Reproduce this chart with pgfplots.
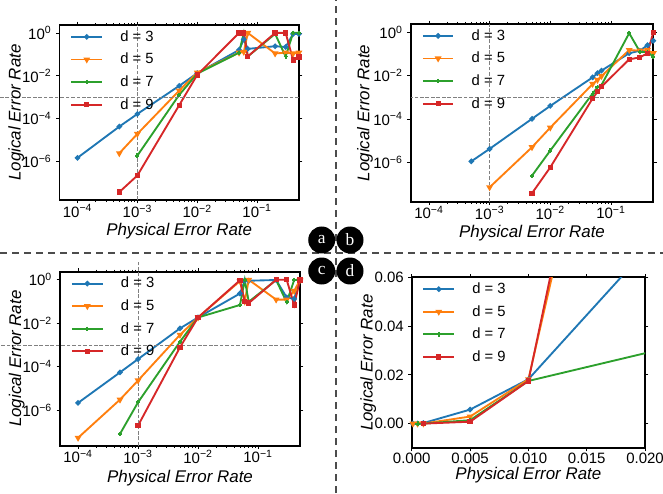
\documentclass[border=0pt]{standalone}
\usepackage{fontspec}
\setmainfont{Liberation Sans}
\newfontfamily\seriffont{Liberation Serif}
\usepackage{pgfplots}
\pgfplotsset{compat=1.18}
\definecolor{c3}{HTML}{1F77B4}
\definecolor{c5}{HTML}{FF7F0E}
\definecolor{c7}{HTML}{2CA02C}
\definecolor{c9}{HTML}{D62728}
\tikzset{refline/.style={gray, line width=0.6pt, dash pattern=on 2.8pt off 1.3pt}}
\pgfplotsset{
  s3/.style={color=c3, mark=*, mark size=1.3pt, line width=1.4pt},
  s5/.style={color=c5, mark=triangle*, mark size=1.6pt, mark options={rotate=180}, line width=1.4pt},
  s7/.style={color=c7, mark=+, mark size=1.6pt, line width=1.4pt},
  s9/.style={color=c9, mark=square*, mark size=1.25pt, line width=1.4pt},
  panel/.style={
    scale only axis, anchor=south west,
    tick align=outside, major tick length=2.5pt, minor tick length=1.5pt,
    tick style={black, line width=0.6pt},
    axis line style={line width=1.3pt},
    tick label style={font=\fontsize{11.25}{13}\selectfont},
    xticklabel style={yshift=2.5pt},
    label style={font=\fontsize{12.7}{15}\selectfont\itshape},
    xlabel={Physical Error Rate}, ylabel={Logical Error Rate},
    legend style={draw=none, fill=none, at={(0.045,0.985)}, anchor=north west,
      font=\fontsize{11.1}{13}\selectfont, row sep=3.4pt, inner sep=0pt,
      /tikz/every odd column/.append style={column sep=11pt}},
    legend cell align=left,
    legend image code/.code={\draw[mark repeat=2, mark phase=2, ##1] plot coordinates {(0pt,0pt) (11.5pt,0pt) (23pt,0pt)};},
  },
  logpanel/.style={panel, clip=false, xmin=5e-5, xmax=0.5,
    xtick={1e-4,1e-3,1e-2,1e-1},
    xticklabels={10\textsuperscript{−4},10\textsuperscript{−3},10\textsuperscript{−2},10\textsuperscript{−1}},
    ytick={1e-6,1e-4,1e-2,1},
    yticklabels={10\textsuperscript{−6},10\textsuperscript{−4},10\textsuperscript{−2},10\textsuperscript{0}},
  },
}
\begin{document}
\begin{tikzpicture}
\useasboundingbox (0,0) rectangle (497.25pt,369.75pt);
% ---------------- panel a
\begin{loglogaxis}[logpanel, at={(44.6pt,219.75pt)}, width=179.6pt, height=131.25pt,
  ymin=1.62e-8, ymax=2.34,
  xlabel style={at={(axis description cs:0.5,-0.175)}, anchor=center},
  ylabel style={at={(axis description cs:-0.18,0.5)}, anchor=center}]
\addplot[s3] coordinates {(1e-4,1.5e-6) (5e-4,4.3e-5) (1e-3,1.66e-4) (5e-3,3.4e-3) (1e-2,1.32e-2) (0.05,0.16) (0.06,0.5) (0.07,0.18) (0.2,0.24) (0.3,0.22) (0.4,0.9) (0.5,0.9)};
\addplot[s5] coordinates {(5e-4,2.45e-6) (1e-3,1.95e-5) (5e-3,2.04e-3) (1e-2,1.41e-2) (0.05,0.12) (0.06,0.13) (0.07,1.0) (0.2,0.11) (0.3,0.12) (0.4,0.11) (0.5,0.12)};
\addplot[s7] coordinates {(1e-3,1.9e-6) (5e-3,1.29e-3) (1e-2,1.26e-2) (0.05,0.12) (0.06,1.0) (0.07,0.08) (0.2,0.9) (0.3,0.08) (0.4,1.0) (0.5,1.0)};
\addplot[s9] coordinates {(5e-4,3.8e-8) (1e-3,2.24e-7) (5e-3,4.27e-4) (1e-2,1.1e-2) (0.05,1.0) (0.06,1.0) (0.07,0.08) (0.2,1.0) (0.3,1.0) (0.4,0.055) (0.5,0.075)};
\legend{d = 3, d = 5, d = 7, d = 9}
\draw[refline] (axis cs:1e-3,1.62e-8) -- (axis cs:1e-3,2.34);
\draw[refline] (axis cs:0.5,1e-3) -- ([xshift=-44.6pt]axis cs:5e-5,1e-3);
\end{loglogaxis}
% ---------------- panel b
\begin{loglogaxis}[logpanel, at={(308pt,218.5pt)}, width=182pt, height=133.3pt,
  ymin=1.55e-8, ymax=2.4,
  xlabel style={at={(axis description cs:0.5,-0.178)}, anchor=center},
  ylabel style={at={(axis description cs:-0.188,0.5)}, anchor=center}]
\addplot[s3] coordinates {(5e-4,1.12e-6) (1e-3,4.2e-6) (5e-3,1.02e-4) (1e-2,4.0e-4) (0.05,8.3e-3) (0.06,1.29e-2) (0.07,1.7e-2) (0.2,0.107) (0.3,0.14) (0.4,0.25) (0.5,0.4)};
\addplot[s5] coordinates {(1e-3,7.1e-8) (5e-3,5.0e-6) (1e-2,4.0e-5) (0.05,4.1e-3) (0.06,6.3e-3) (0.07,9.5e-3) (0.2,0.15) (0.3,0.14) (0.4,0.15) (0.5,0.107)};
\addplot[s7] coordinates {(5e-3,2.45e-7) (1e-2,3.5e-6) (0.05,1.5e-3) (0.06,2.9e-3) (0.07,3.7e-3) (0.2,0.9) (0.3,0.126) (0.4,0.12) (0.5,0.075)};
\addplot[s9] coordinates {(5e-3,3.8e-8) (1e-2,5.9e-7) (0.05,8.9e-4) (0.06,1.8e-3) (0.07,3.1e-3) (0.2,0.056) (0.3,0.069) (0.4,0.107) (0.5,1.0)};
\legend{d = 3, d = 5, d = 7, d = 9}
\draw[refline] (axis cs:1e-3,1.55e-8) -- (axis cs:1e-3,2.4);
\draw[refline] (axis cs:0.5,1e-3) -- (axis cs:5e-5,1e-3);
\end{loglogaxis}
% ---------------- panel c
\begin{loglogaxis}[logpanel, at={(45pt,35.5pt)}, width=180pt, height=130.5pt,
  ymin=2.4e-8, ymax=2.29,
  xlabel style={at={(axis description cs:0.5,-0.187)}, anchor=center},
  ylabel style={at={(axis description cs:-0.18,0.5)}, anchor=center}]
\addplot[s3] coordinates {(1e-4,2.2e-6) (5e-4,5.5e-5) (1e-3,2.24e-4) (5e-3,5.75e-3) (1e-2,1.82e-2) (0.05,0.229) (0.06,0.9) (0.07,0.88) (0.2,0.95) (0.3,0.15) (0.4,0.13) (0.5,0.93)};
\addplot[s5] coordinates {(1e-4,5.5e-8) (5e-4,3.1e-6) (1e-3,2.34e-5) (5e-3,2.9e-3) (1e-2,1.82e-2) (0.05,0.85) (0.06,0.1) (0.07,0.97) (0.2,0.12) (0.3,0.12) (0.4,0.3) (0.5,0.95)};
\addplot[s7] coordinates {(5e-4,8.3e-8) (1e-3,2.34e-6) (5e-3,1.41e-3) (1e-2,1.82e-2) (0.05,0.068) (0.06,0.95) (0.07,0.095) (0.2,0.95) (0.3,0.09) (0.4,0.95) (0.5,0.95)};
\addplot[s9] coordinates {(1e-3,2.0e-7) (5e-3,7.8e-4) (1e-2,1.82e-2) (0.05,0.93) (0.06,0.095) (0.07,0.083) (0.2,0.97) (0.3,0.97) (0.4,0.068) (0.5,0.95)};
\legend{d = 3, d = 5, d = 7, d = 9}
\draw[refline] (axis cs:1e-3,2.4e-8) -- ([yshift=8.8pt]axis cs:1e-3,2.29);
\draw[refline] (axis cs:0.5,1e-3) -- ([xshift=-45pt]axis cs:5e-5,1e-3);
\end{loglogaxis}
% ---------------- panel d
\begin{axis}[panel, at={(308.8pt,33.75pt)}, width=175pt, height=128pt,
  xmin=0, xmax=0.02, ymin=-0.01, ymax=0.06,
  xtick={0,0.005,0.01,0.015,0.02}, ytick={0,0.02,0.04,0.06},
  /pgf/number format/assume math mode=true,
  xticklabel style={/pgf/number format/.cd, fixed, fixed zerofill, precision=3},
  yticklabel style={/pgf/number format/.cd, fixed, fixed zerofill, precision=2},
  scaled ticks=false,
  xlabel style={at={(axis description cs:0.5,-0.16)}, anchor=center},
  ylabel style={at={(axis description cs:-0.186,0.5)}, anchor=center}]
\addplot[s3] coordinates {(1e-4,2.2e-6) (5e-4,5.5e-5) (1e-3,2.24e-4) (5e-3,5.75e-3) (1e-2,1.82e-2) (0.05,0.229)};
\addplot[s5] coordinates {(1e-4,5.5e-8) (5e-4,3.1e-6) (1e-3,2.34e-5) (5e-3,2.9e-3) (1e-2,1.82e-2) (0.05,0.85)};
\addplot[s7] coordinates {(5e-4,8.3e-8) (1e-3,2.34e-6) (5e-3,1.41e-3) (1e-2,1.75e-2) (0.05,0.063)};
\addplot[s9] coordinates {(1e-3,2.0e-7) (5e-3,7.8e-4) (1e-2,1.75e-2) (0.05,0.93)};
\legend{d = 3, d = 5, d = 7, d = 9}
\end{axis}
% ---------------- separators and panel letters
\draw[black!70, line width=1.3pt, dash pattern=on 5.25pt off 3.75pt] (252pt,0) -- (252pt,369.75pt);
\draw[black!70, line width=1.3pt, dash pattern=on 5.25pt off 3.75pt] (0,179.8pt) -- (497.25pt,179.8pt);
\foreach \x/\y/\l in {241.3/189.75/a, 262.5/189.75/b, 241.3/166.5/c, 262.5/166.5/d}
  \node[circle, fill=black, minimum size=20.25pt, inner sep=0pt, text=white,
        font=\seriffont\fontsize{13}{13}\selectfont] at (\x pt,\y pt) {\l};
\end{tikzpicture}
\end{document}
